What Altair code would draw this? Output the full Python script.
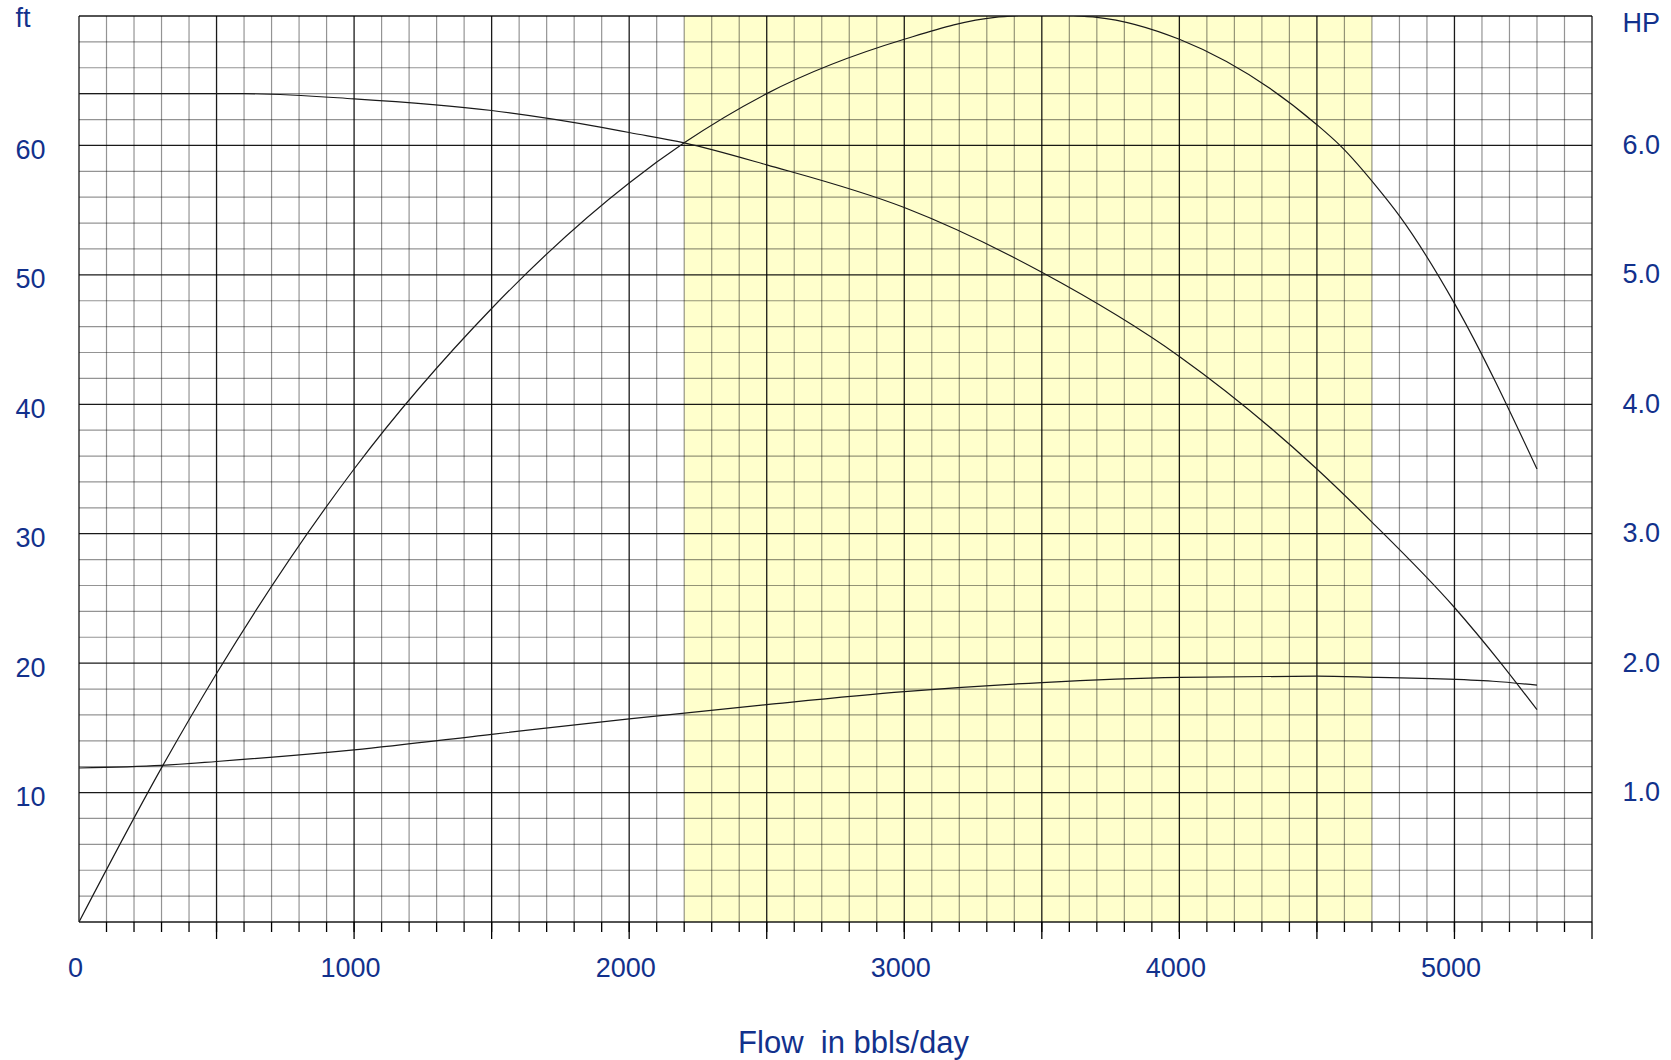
import altair as alt
import pandas as pd

# ---------------- data ----------------
flow_head = [0, 300, 600, 1000, 1500, 1900, 2000, 2200, 2500, 3000, 3500, 4000, 4500, 4700, 5000, 5165, 5300]
head_ft = [64.0, 64.0, 64.0, 63.6, 62.7, 61.4, 61.0, 60.2, 58.5, 55.2, 50.2, 43.7, 35.0, 30.9, 24.3, 20.1, 16.4]

flow_eff = [0, 305, 500, 1000, 1500, 2000, 2200, 2500, 3000, 3330, 3400, 3515, 3630, 3700, 4000, 4500, 4584, 4721, 4802, 5000, 5300]
eff_curve = [0, 12.1, 19.2, 35.0, 47.4, 57.1, 60.2, 64.0, 68.2, 69.9, 70.0, 70.4, 70.0, 69.9, 68.2, 61.6, 60.0, 56.7, 54.5, 47.8, 35.0]

flow_hp = [0, 300, 500, 1000, 1500, 2000, 2500, 3000, 3500, 4000, 4500, 4720, 4920, 5140, 5300]
hp_values = [1.19, 1.21, 1.24, 1.33, 1.45, 1.57, 1.68, 1.78, 1.85, 1.89, 1.90, 1.89, 1.88, 1.86, 1.83]

band_start = [2200]
band_end = [4700]

x_major = [0, 500, 1000, 1500, 2000, 2500, 3000, 3500, 4000, 4500, 5000, 5500]
x_minor = [v for v in range(0, 5501, 100) if v % 500]
x_major_ticks = [500, 1000, 1500, 2000, 2500, 3000, 3500, 4000, 4500, 5000, 5500]
x_minor_ticks = [v for v in range(100, 5500, 100)]
y_major = [0, 10, 20, 30, 40, 50, 60, 70]
y_minor = [v for v in range(0, 71, 2) if v % 10]

x_labels = [0, 1000, 2000, 3000, 4000, 5000]
ft_labels = [10, 20, 30, 40, 50, 60, 70]
hp_labels = [1, 2, 3, 4, 5, 6, 7]

# ---------------- styling ----------------
W, H = 1513, 906
FONT = "Liberation Sans"
BLUE = "#12318C"
LINE = "#1a1a1a"

xs = alt.Scale(domain=[0, 5500], nice=False, zero=False)
ys = alt.Scale(domain=[0, 70], nice=False, zero=False)
hs = alt.Scale(domain=[0, 7], nice=False, zero=False)

x_axis = alt.Axis(
    values=x_labels, format="d", ticks=False, tickSize=0, domain=False, grid=False,
    labelFont=FONT, labelFontSize=27, labelColor=BLUE, labelPadding=54,
    labelBaseline="alphabetic", labelOffset=-4, labelFlush=False, labelOverlap=False,
    title="Flow\u00a0 in bbls/day", titleFont=FONT, titleFontSize=31, titleColor=BLUE,
    titleFontWeight="normal", titleX=774, titleY=130, titleBaseline="alphabetic",
    titleAlign="center",
)
ft_axis = alt.Axis(
    values=ft_labels, ticks=False, tickSize=0, domain=False, grid=False,
    labelFont=FONT, labelFontSize=27, labelColor=BLUE, labelPadding=64,
    labelAlign="left", labelBaseline="middle", labelFlush=False, labelOverlap=False,
    labelExpr="datum.value == 70 ? 'ft' : datum.label",
    labelOffset={"condition": {"test": "datum.value == 70", "value": 2}, "value": 5},
    title=None,
)
hp_axis = alt.Axis(
    values=hp_labels, orient="right", ticks=False, tickSize=0, domain=False, grid=False,
    labelFont=FONT, labelFontSize=27, labelColor=BLUE, labelPadding=30,
    labelAlign="left", labelBaseline="middle", labelFlush=False, labelOverlap=False,
    labelExpr="datum.value == 7 ? 'HP' : format(datum.value, '.1f')",
    labelOffset={"condition": {"test": "datum.value == 7", "value": 7}, "value": 0},
    title=None,
)


def X(field):
    return alt.X(field, scale=xs, axis=x_axis)


def Y(field):
    return alt.Y(field, scale=ys, axis=ft_axis)


band = alt.Chart(pd.DataFrame({"s": band_start, "e": band_end, "lo": [0], "hi": [70]})).mark_rect(
    color="#FFFFCC"
).encode(x=X("s:Q"), x2="e:Q", y=Y("lo:Q"), y2="hi:Q")

vminor = alt.Chart(pd.DataFrame({"v": x_minor})).mark_rule(
    color="black", opacity=0.42, strokeWidth=1.2
).encode(x=X("v:Q"))
hminor = alt.Chart(pd.DataFrame({"v": y_minor})).mark_rule(
    color="black", opacity=0.42, strokeWidth=1.2
).encode(y=Y("v:Q"))
vmajor = alt.Chart(pd.DataFrame({"v": x_major})).mark_rule(
    color="black", opacity=0.9, strokeWidth=1.3
).encode(x=X("v:Q"))
hmajor = alt.Chart(pd.DataFrame({"v": y_major})).mark_rule(
    color="black", opacity=0.9, strokeWidth=1.3
).encode(y=Y("v:Q"))

tick_minor = alt.Chart(pd.DataFrame({"v": x_minor_ticks})).mark_rule(
    color="black", strokeWidth=1.3
).encode(x=X("v:Q"), y=alt.value(H), y2=alt.value(H + 10))
tick_major = alt.Chart(pd.DataFrame({"v": x_major_ticks})).mark_rule(
    color="black", strokeWidth=1.3
).encode(x=X("v:Q"), y=alt.value(H), y2=alt.value(H + 17))

head = alt.Chart(pd.DataFrame({"q": flow_head, "h": head_ft})).mark_line(
    color=LINE, strokeWidth=1.2, interpolate="monotone", clip=True
).encode(x=X("q:Q"), y=Y("h:Q"))
eff = alt.Chart(pd.DataFrame({"q": flow_eff, "e": eff_curve})).mark_line(
    color=LINE, strokeWidth=1.2, interpolate="monotone", clip=True
).encode(x=X("q:Q"), y=Y("e:Q"))
hp = alt.Chart(pd.DataFrame({"q": flow_hp, "p": hp_values})).mark_line(
    color=LINE, strokeWidth=1.2, interpolate="monotone", clip=True
).encode(x=X("q:Q"), y=alt.Y("p:Q", scale=hs, axis=hp_axis))

left = alt.layer(band, vminor, hminor, vmajor, hmajor, tick_minor, tick_major, head, eff)
chart = alt.layer(left, hp).resolve_scale(y="independent").properties(
    width=W, height=H,
    padding={"left": 79, "top": 16, "right": 79, "bottom": 138},
    autosize=alt.AutoSizeParams(type="none"),
    background="white",
).configure_view(stroke=None)

chart.save("out.html", embed_options={"renderer": "svg", "actions": False})
